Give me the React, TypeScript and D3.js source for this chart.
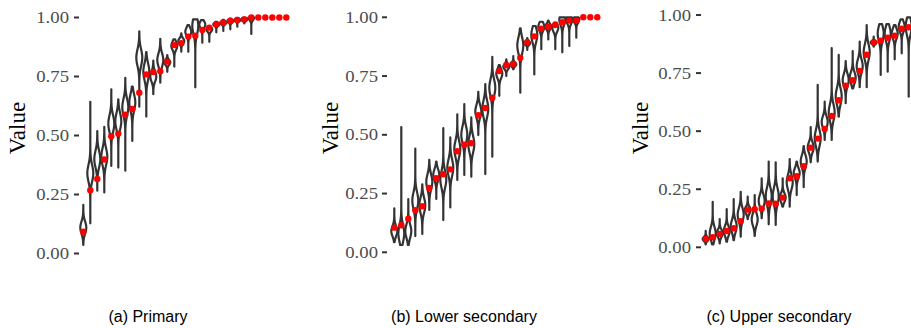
import React from "react";
import * as d3 from "d3";

const ticks = [0, 0.25, 0.5, 0.75, 1];
const tickLabels = ["0.00", "0.25", "0.50", "0.75", "1.00"];
const captions = ["(a) Primary", "(b) Lower secondary", "(c) Upper secondary"];

// Panel (a) Primary
const medA = [0.092, 0.268, 0.316, 0.398, 0.497, 0.508, 0.588, 0.612, 0.681, 0.759, 0.769, 0.772, 0.813, 0.883, 0.891, 0.919, 0.923, 0.947, 0.957, 0.971, 0.978, 0.985, 0.989, 0.992, 1, 1, 1, 1, 1, 1];
const loA = [0.036, 0.128, 0.266, 0.259, 0.371, 0.364, 0.351, 0.477, 0.622, 0.58, 0.675, 0.724, 0.77, 0.792, 0.855, 0.855, 0.704, 0.893, 0.897, 0.937, 0.943, 0.95, 0.961, 0.975, 0.93, 1, 1, 1, 1, 1];
const hiA = [0.206, 0.643, 0.519, 0.537, 0.696, 0.653, 0.744, 0.707, 0.941, 0.853, 0.817, 0.91, 0.841, 0.907, 0.933, 0.968, 0.992, 0.989, 0.961, 0.982, 0.99, 0.995, 0.998, 1, 1, 1, 1, 1, 1, 1];
const peakA = [0.11, 0.34, 0.4, 0.41, 0.55, 0.56, 0.62, 0.64, 0.83, 0.77, 0.75, 0.82, 0.81, 0.88, 0.9, 0.94, 0.965, 0.97, 0.95, 0.971, 0.978, 0.985, 0.989, 0.992, 1, 1, 1, 1, 1, 1];

// Panel (b) Lower secondary
const medB = [0.105, 0.115, 0.143, 0.179, 0.196, 0.274, 0.315, 0.332, 0.353, 0.43, 0.458, 0.464, 0.583, 0.614, 0.658, 0.771, 0.796, 0.801, 0.828, 0.894, 0.919, 0.951, 0.96, 0.967, 0.979, 0.986, 0.986, 1, 1, 1];
const loB = [0.043, 0.031, 0.031, 0.069, 0.078, 0.18, 0.227, 0.137, 0.191, 0.308, 0.329, 0.322, 0.499, 0.333, 0.407, 0.666, 0.75, 0.779, 0.679, 0.861, 0.757, 0.864, 0.906, 0.864, 0.851, 0.878, 0.913, 1, 1, 1];
const hiB = [0.187, 0.533, 0.226, 0.441, 0.289, 0.393, 0.386, 0.528, 0.489, 0.587, 0.631, 0.574, 0.683, 0.716, 0.832, 0.797, 0.821, 0.835, 0.953, 0.911, 0.963, 0.981, 0.986, 0.977, 1, 1, 1, 1, 1, 1];
const peakB = [0.09, 0.08, 0.09, 0.22, 0.2, 0.3, 0.33, 0.31, 0.36, 0.44, 0.5, 0.46, 0.6, 0.61, 0.7, 0.76, 0.79, 0.8, 0.88, 0.89, 0.925, 0.96, 0.96, 0.955, 0.99, 0.99, 0.99, 1, 1, 1];

// Panel (c) Upper secondary
const medC = [0.036, 0.043, 0.058, 0.07, 0.082, 0.112, 0.162, 0.164, 0.166, 0.189, 0.188, 0.214, 0.297, 0.306, 0.349, 0.429, 0.468, 0.509, 0.565, 0.633, 0.696, 0.719, 0.759, 0.829, 0.882, 0.889, 0.902, 0.911, 0.941, 0.947];
const loC = [0.013, 0.013, 0.017, 0.024, 0.031, 0.046, 0.121, 0.049, 0.125, 0.099, 0.096, 0.175, 0.175, 0.225, 0.259, 0.366, 0.369, 0.462, 0.462, 0.562, 0.62, 0.684, 0.689, 0.689, 0.864, 0.742, 0.756, 0.809, 0.835, 0.648];
const hiC = [0.071, 0.196, 0.121, 0.164, 0.207, 0.239, 0.218, 0.225, 0.297, 0.369, 0.366, 0.297, 0.38, 0.369, 0.436, 0.517, 0.699, 0.627, 0.857, 0.828, 0.802, 0.845, 0.885, 0.957, 0.907, 0.961, 0.961, 0.957, 0.981, 0.99];
const peakC = [0.036, 0.06, 0.06, 0.07, 0.09, 0.14, 0.16, 0.12, 0.2, 0.22, 0.22, 0.214, 0.28, 0.32, 0.37, 0.43, 0.47, 0.54, 0.58, 0.65, 0.72, 0.73, 0.78, 0.84, 0.882, 0.92, 0.92, 0.92, 0.95, 0.95];

const panels = [
  { med: medA, lo: loA, hi: hiA, peak: peakA, x0: 83.3, tickEnd: 79, labelEnd: 69, yTop: 17.5, yBot: 253.5, valueX: 17, capX: 148 },
  { med: medB, lo: loB, hi: hiB, peak: peakB, x0: 394.3, tickEnd: 387, labelEnd: 378, yTop: 17.3, yBot: 252.3, valueX: 330, capX: 464 },
  { med: medC, lo: loC, hi: hiC, peak: peakC, x0: 705.7, tickEnd: 701, labelEnd: 691, yTop: 15, yBot: 247.3, valueX: 640, capX: 779 },
];

const STEP = 7;
const HALF = 3.0;

function Panel({ p }: { p: (typeof panels)[number] }) {
  const n = p.med.length;
  const y = d3.scaleLinear().domain([0, 1]).range([p.yBot, p.yTop]);
  const x = d3.scaleLinear().domain([0, n - 1]).range([p.x0, p.x0 + STEP * (n - 1)]);

  const violins = p.med.map((m, i) => {
    const lo = p.lo[i];
    const hi = p.hi[i];
    if (hi - lo < 0.002) return null;
    const s = Math.max(0.006, Math.min(0.035, 0.15 * (hi - lo)));
    const pk = Math.min(hi, Math.max(lo, p.peak[i]));
    const pts = d3.range(0, 41).map((k) => {
      const v = lo + ((hi - lo) * k) / 40;
      const dens = Math.exp(-0.5 * ((v - pk) / s) ** 2);
      return { v, w: dens };
    });
    const maxW = d3.max(pts, (d) => d.w) || 1;
    const cx = x(i);
    const area = d3
      .area<{ v: number; w: number }>()
      .y((d) => y(d.v))
      .x0((d) => cx - (HALF * d.w) / maxW)
      .x1((d) => cx + (HALF * d.w) / maxW)
      .curve(d3.curveBasis);
    return <path key={i} d={area(pts) || ""} fill="white" stroke="#333333" strokeWidth={2.2} strokeLinejoin="round" />;
  });

  return (
    <g>
      {ticks.map((t, i) => (
        <g key={t}>
          <line x1={p.tickEnd - 5} x2={p.tickEnd} y1={y(t)} y2={y(t)} stroke="#333333" strokeWidth={2} />
          <text
            transform={`translate(${p.labelEnd},${y(t)}) scale(1.17,1)`}
            dy="0.35em"
            textAnchor="end"
            fontFamily="Liberation Serif"
            fontSize={16}
            fill="#4D4D4D"
          >
            {tickLabels[i]}
          </text>
        </g>
      ))}
      <text
        transform={`translate(${p.valueX + 8},128) rotate(-90)`}
        textAnchor="middle"
        fontFamily="Liberation Serif"
        fontSize={23}
        fill="#000"
      >
        Value
      </text>
      {violins}
      {p.med.map((m, i) => (
        <circle key={i} cx={x(i)} cy={y(m)} r={3.2} fill="#FF0000" />
      ))}
    </g>
  );
}

export default function App() {
  return (
    <div style={{ position: "fixed", left: 0, top: 0 }}>
      <svg width={911} height={328} style={{ display: "block", background: "#fff" }}>
        {panels.map((p, i) => (
          <Panel key={i} p={p} />
        ))}
        {panels.map((p, i) => (
          <text key={i} x={p.capX} y={322} textAnchor="middle" fontFamily="Liberation Sans" fontSize={16} fill="#000">
            {captions[i]}
          </text>
        ))}
      </svg>
    </div>
  );
}
